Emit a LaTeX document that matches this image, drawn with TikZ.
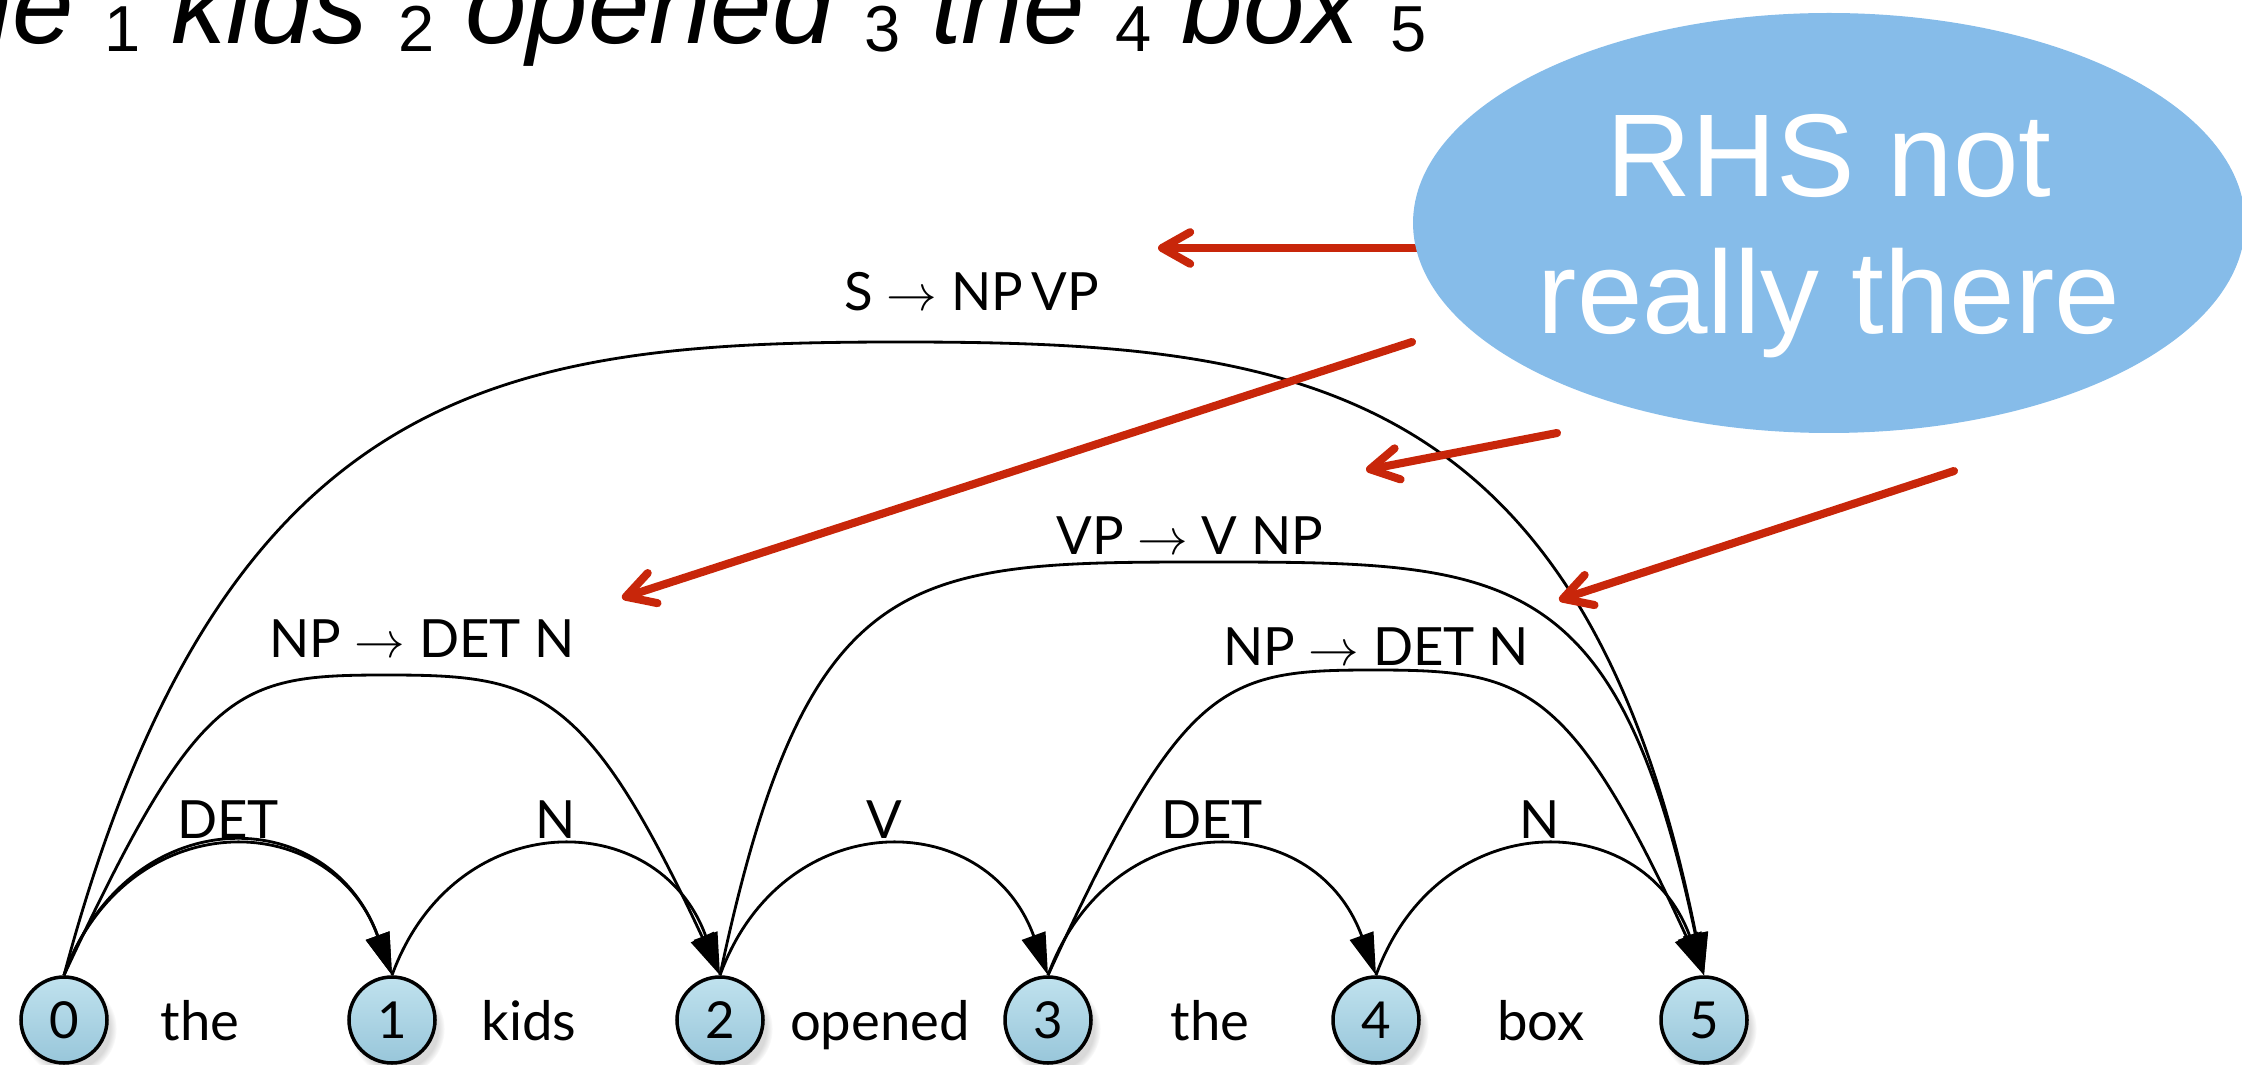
\documentclass[tikz,border=0pt]{standalone}
\usepackage{fontspec}
\setmainfont{Lato}
\newfontfamily\arialfont{Liberation Sans}
\usetikzlibrary{arrows.meta,positioning,shadows,shapes.geometric}

\definecolor{stateblue}{RGB}{192,226,238}
\definecolor{statebluedark}{RGB}{152,198,218}
\definecolor{calloutblue}{RGB}{134,188,233}
\definecolor{pointred}{RGB}{200,38,10}

% subscript position numbers in the title
\newcommand{\sn}[1]{\raisebox{-2pt}{\upshape\fontsize{18.5}{18.5}\selectfont #1}}

\begin{document}
\begin{tikzpicture}[x=0.1mm,y=-0.1mm,node distance=32.8mm,
  arc/.style={line width=.8pt,-{Triangle[length=12pt,width=7pt]}},
  hop/.style={out=70,in=110,looseness=1.42},
  state/.style={circle,draw,line width=1pt,minimum size=8.6mm,inner sep=0pt,
    top color=stateblue,bottom color=statebluedark,
    circular drop shadow={shadow xshift=.5mm,shadow yshift=-.8mm,opacity=.3},
    font=\fontsize{14.5}{16}\selectfont},
  word/.style={font=\fontsize{15.5}{18}\selectfont,text height=13pt,text depth=1.6pt},
  lbl/.style={font=\fontsize{15}{18}\selectfont,inner sep=2pt},
  pointer/.style={pointred,line width=2.3pt,line cap=round,
    -{Straight Barb[length=8pt,width=9pt,line cap=round,line join=round]}}]

  \useasboundingbox (0,0) rectangle (2242,1065);
  \clip (0,0) rectangle (2242,1065);

  \node[anchor=base west,inner sep=0pt,font=\arialfont\itshape\fontsize{31.4}{33}\selectfont]
    (title) at (-80,44) {the \sn{1} kids \sn{2} opened \sn{3} the \sn{4} box \sn{5}};

  \node[state] (N0) at (64,1020) {0};
  \node[state] (N1) [right of=N0] {1};
  \node[state] (N2) [right of=N1] {2};
  \node[state] (N3) [right of=N2] {3};
  \node[state] (N4) [right of=N3] {4};
  \node[state] (N5) [right of=N4] {5};

  \node[word] (the1) [node distance=13.6mm, right of=N0] {the};
  \node[word] (kids) [node distance=13.7mm, right of=N1] {kids};
  \node[word] (opened) [node distance=16mm, right of=N2] {opened};
  \node[word] (the2) [node distance=16.2mm, right of=N3] {the};
  \node[word] (box) [node distance=16.5mm, right of=N4] {box};

  \path[arc]
    (N0.north) edge[hop] node[lbl,above] {DET} (N1.north)
    (N0.north) edge[hop,looseness=1.46] (N1.north)
    (N1.north) edge[hop] node[lbl,above] {N} (N2.north)
    (N2.north) edge[hop] node[lbl,above] {V} (N3.north)
    (N3.north) edge[hop] node[lbl,above] {DET} (N4.north)
    (N4.north) edge[hop] node[lbl,above] {N} (N5.north);

  % peaks of the long arcs
  \coordinate (pkS) at (900,342);
  \coordinate (pkVP) at (1208,562);
  \coordinate (pkNPa) at (386,675);
  \coordinate (pkNPb) at (1373,670);

  \draw[arc] (N0.north) .. controls +(160,-599) and +(-390,0) .. (pkS)
    .. controls +(390,0) and +(-120,-600) .. (N5.north);
  \draw[arc] (N2.north) .. controls +(87,-411) and +(-300,0) .. (pkVP)
    .. controls +(300,0) and +(-87,-411) .. (N5.north);
  \draw[arc] (N0.north) .. controls +(135,-290) and +(-150,0) .. (pkNPa)
    .. controls +(150,0) and +(-135,-290) .. (N2.north);
  \draw[arc] (N3.north) .. controls +(135,-295) and +(-150,0) .. (pkNPb)
    .. controls +(150,0) and +(-135,-295) .. (N5.north);

  \node[lbl] (lS) at (972,292) {S $\rightarrow$ NP\,VP};
  \node[lbl] (lVP) at (1190,536) {VP $\rightarrow$ V NP};
  \node[lbl] (lNPa) at (422,639) {NP $\rightarrow$ DET N};
  \node[lbl] (lNPb) at (1376,647) {NP $\rightarrow$ DET N};

  % pointers from the callout
  \coordinate (p1s) at (1425,248);
  \coordinate (p1e) at (1158,248);
  \coordinate (p2s) at (1412,342);
  \coordinate (p2e) at (622,598);
  \coordinate (p3s) at (1557,433);
  \coordinate (p3e) at (1366,470);
  \coordinate (p4s) at (1954,471);
  \coordinate (p4e) at (1559,600);
  \draw[pointer] (p1s) -- (p1e);
  \draw[pointer] (p2s) -- (p2e);
  \draw[pointer] (p3s) -- (p3e);
  \draw[pointer] (p4s) -- (p4e);

  \node[ellipse,fill=calloutblue,minimum width=83.2mm,minimum height=42mm,inner sep=0pt,
    align=center,text=white,font=\arialfont\fontsize{33.5}{39}\selectfont,
    text height=22.2mm,text depth=0pt]
    (rhs) at (1829,223) {RHS not\\really there};
\end{tikzpicture}
\end{document}
